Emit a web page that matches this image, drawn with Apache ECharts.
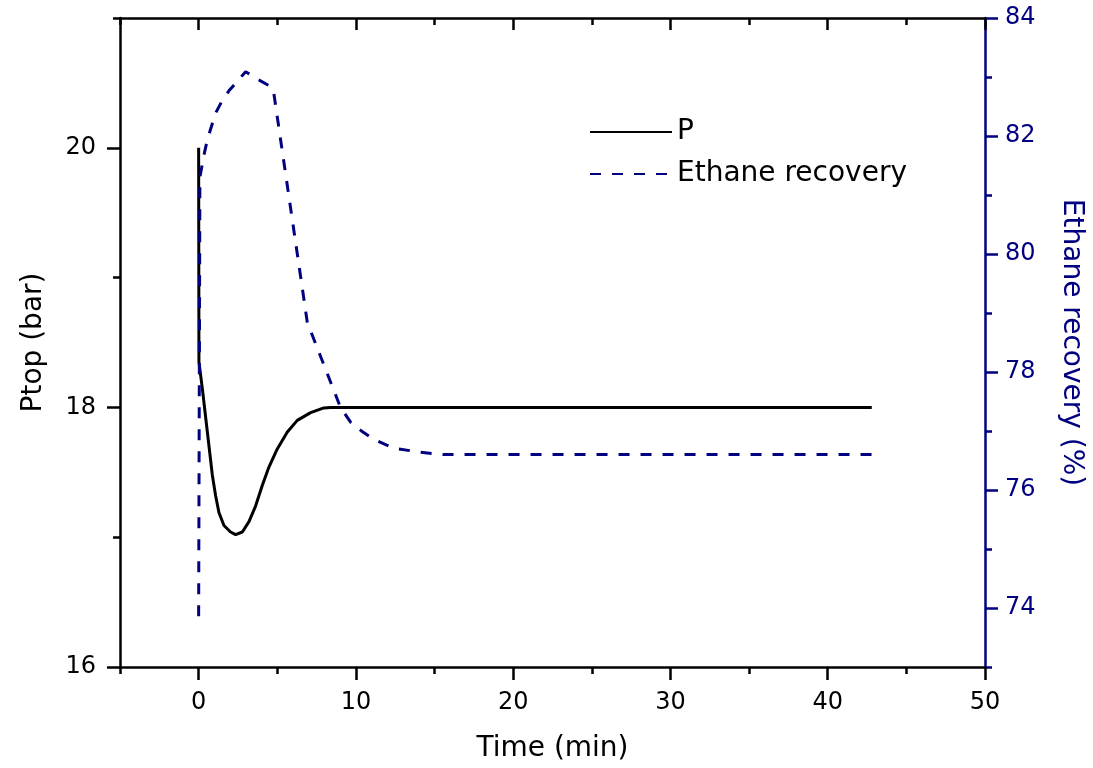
<!DOCTYPE html>
<html>
<head>
<meta charset="utf-8">
<script src="https://cdn.jsdelivr.net/npm/echarts@6/dist/echarts.min.js"></script>
<style>
html,body{margin:0;padding:0;background:#fff;}
#chart{width:1093px;height:768px;}
</style>
</head>
<body>
<div id="chart"></div>
<script>
// ---- data ----
const timeP = [0, 0.02, 0.24, 0.44, 0.65, 0.87, 1.08, 1.29, 1.61, 2.03, 2.35, 2.78, 3.20, 3.62, 4.05, 4.47, 5.0, 5.64, 6.27, 7.12, 7.96, 8.39, 42.8];
const ptop  = [20.0, 18.35, 18.14, 17.93, 17.71, 17.48, 17.32, 17.19, 17.09, 17.04, 17.02, 17.04, 17.12, 17.24, 17.40, 17.54, 17.68, 17.81, 17.90, 17.96, 17.996, 18.0, 18.0];

const timeE  = [0, 0.08, 0.34, 0.55, 0.65, 1.08, 1.5, 1.97, 2.99, 3.62, 4.57, 4.75, 6.91, 9.02, 9.66, 10.4, 11.12, 12.39, 14.1, 15.57, 42.8];
const ethane = [73.86, 81.3, 81.68, 81.93, 82.02, 82.39, 82.6, 82.78, 83.09, 82.98, 82.84, 82.78, 78.84, 77.40, 77.15, 76.99, 76.86, 76.71, 76.64, 76.60, 76.60];

const xMajorTicks = [0, 10, 20, 30, 40, 50];
const xMinorTicks = [-5, 5, 15, 25, 35, 45];
const yLeftMajorTicks = [16, 18, 20];
const yLeftMinorTicks = [17, 19, 21];
const yRightMajorTicks = [74, 76, 78, 80, 82, 84];
const yRightMinorTicks = [73, 75, 77, 79, 81, 83];

const seriesNames = ['P', 'Ethane recovery'];
const axisTitles = {x: 'Time (min)', yLeft: 'Ptop (bar)', yRight: 'Ethane recovery (%)'};

// ---- styles ----
const FONT = 'DejaVu Sans';
const NAVY = '#000080';
const BLACK = '#000000';
const AXW = 2.5;

function xAx(pos, ticks, len, inside, showLine, showLabel) {
  return {
    type: 'value', position: pos, min: -5, max: 50,
    axisLine: {show: showLine, onZero: false, lineStyle: {color: BLACK, width: AXW}},
    axisTick: {show: true, customValues: ticks, length: len, inside: inside, lineStyle: {color: BLACK, width: AXW}},
    axisLabel: {show: showLabel, customValues: ticks, color: BLACK, fontFamily: FONT, fontSize: 24, margin: 24},
    splitLine: {show: false}
  };
}
function yAx(pos, min, max, ticks, len, color, showLine, showLabel) {
  return {
    type: 'value', position: pos, min: min, max: max,
    axisLine: {show: showLine, onZero: false, lineStyle: {color: color, width: AXW}},
    axisTick: {show: true, customValues: ticks, length: len, inside: false, lineStyle: {color: color, width: AXW}},
    axisLabel: {show: showLabel, customValues: ticks, color: color, fontFamily: FONT, fontSize: 24, margin: pos === 'left' ? 24 : 20},
    splitLine: {show: false}
  };
}

const xMain = xAx('bottom', xMajorTicks, 13, false, true, true);
xMain.name = axisTitles.x;
xMain.nameLocation = 'middle';
xMain.nameGap = 68;
xMain.nameTextStyle = {color: BLACK, fontFamily: FONT, fontSize: 28};

const yLeft = yAx('left', 16, 21, yLeftMajorTicks, 13, BLACK, true, true);
yLeft.name = axisTitles.yLeft;
yLeft.nameLocation = 'middle';
yLeft.nameGap = 72;
yLeft.nameTextStyle = {color: BLACK, fontFamily: FONT, fontSize: 28};

const yRight = yAx('right', 73, 84, yRightMajorTicks, 13, NAVY, true, true);
yRight.name = axisTitles.yRight;
yRight.nameLocation = 'middle';
yRight.nameRotate = -90;
yRight.nameGap = 72;
yRight.nameTextStyle = {color: NAVY, fontFamily: FONT, fontSize: 28};

const option = {
  backgroundColor: '#ffffff',
  animation: false,
  grid: {left: 120, right: 108, top: 18, bottom: 100, containLabel: false},
  legend: {
    orient: 'vertical', left: 584, top: 113,
    itemWidth: 82, itemHeight: 20, itemGap: 14,
    textStyle: {fontFamily: FONT, fontSize: 28, color: BLACK},
    itemStyle: {opacity: 0},
    data: seriesNames
  },
  xAxis: [
    xMain,
    xAx('bottom', xMinorTicks, 7, false, false, false),
    xAx('top', xMajorTicks, 12, true, true, false),
    xAx('top', xMinorTicks, 7, true, false, false)
  ],
  yAxis: [
    yLeft,
    yAx('left', 16, 21, yLeftMinorTicks, 7, BLACK, false, false),
    yRight,
    yAx('right', 73, 84, yRightMinorTicks, 7, NAVY, false, false)
  ],
  series: [
    {
      name: seriesNames[0], type: 'line', xAxisIndex: 0, yAxisIndex: 0,
      data: timeP.map((t, i) => [t, ptop[i]]),
      showSymbol: false, symbol: 'none', smooth: false,
      lineStyle: {color: BLACK, width: 3, type: 'solid', join: 'round'},
      itemStyle: {color: BLACK}
    },
    {
      name: seriesNames[1], type: 'line', xAxisIndex: 0, yAxisIndex: 2,
      data: timeE.map((t, i) => [t, ethane[i]]),
      showSymbol: false, symbol: 'none', smooth: false,
      lineStyle: {color: NAVY, width: 3, type: [11, 11]},
      itemStyle: {color: NAVY}
    }
  ]
};

const chart = echarts.init(document.getElementById('chart'), null, {renderer: 'canvas'});
chart.setOption(option);
</script>
</body>
</html>
